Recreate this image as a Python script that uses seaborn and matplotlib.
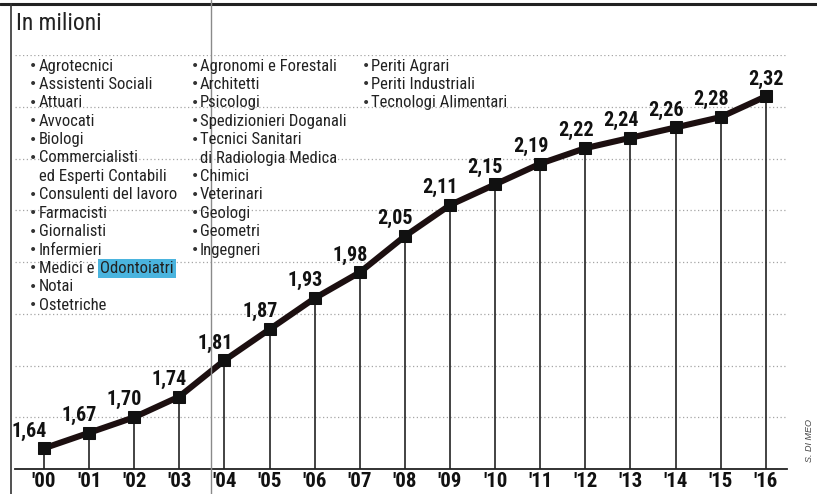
import numpy as np
import pandas as pd
import matplotlib
matplotlib.use("Agg")
import matplotlib.pyplot as plt
from matplotlib.lines import Line2D
from matplotlib import font_manager as fm
import seaborn as sns

# ---- data ----
years = ["'00", "'01", "'02", "'03", "'04", "'05", "'06", "'07", "'08",
         "'09", "'10", "'11", "'12", "'13", "'14", "'15", "'16"]
values = [1.64, 1.67, 1.70, 1.74, 1.81, 1.87, 1.93, 1.98, 2.05,
          2.11, 2.15, 2.19, 2.22, 2.24, 2.26, 2.28, 2.32]
value_labels = ["1,64", "1,67", "1,70", "1,74", "1,81", "1,87", "1,93", "1,98", "2,05",
                "2,11", "2,15", "2,19", "2,22", "2,24", "2,26", "2,28", "2,32"]
title = "In milioni"
col1 = ["Agrotecnici", "Assistenti Sociali", "Attuari", "Avvocati", "Biologi",
        "Commercialisti\ned Esperti Contabili", "Consulenti del lavoro", "Farmacisti",
        "Giornalisti", "Infermieri", "Medici e |Odontoiatri", "Notai", "Ostetriche"]
col2 = ["Agronomi e Forestali", "Architetti", "Psicologi", "Spedizionieri Doganali",
        "Tecnici Sanitari\ndi Radiologia Medica", "Chimici", "Veterinari", "Geologi",
        "Geometri", "Ingegneri"]
col3 = ["Periti Agrari", "Periti Industriali", "Tecnologi Alimentari"]
credit = "S. DI MEO"

sns.set_theme(style="white")
plt.rcParams["font.family"] = ["Liberation Sans", "DejaVu Sans"]


def find_font(bold):
    """Look for an installed narrow/condensed sans font file."""
    cands = []
    for f in fm.fontManager.ttflist:
        n = f.fname.lower()
        if ("narrow" in n or "condensed" in n) and "mono" not in n and "serif" not in n.replace("sans", ""):
            if "italic" in n or "oblique" in n:
                continue
            isbold = ("bold" in n)
            if isbold == bold:
                pri = 0 if "liberation" in n else (1 if "roboto" in n else 2)
                cands.append((pri, f.fname))
    if cands:
        cands.sort()
        return fm.FontProperties(fname=cands[0][1])
    return None


nar = find_font(False)
nar_b = find_font(True)
if nar is not None:
    REG = dict(fontproperties=nar)
    reg_scale = 1.0
else:
    REG = dict(family=["Liberation Sans", "DejaVu Sans"])
    reg_scale = 0.93
if nar_b is not None:
    BLD = dict(fontproperties=nar_b)
    bld_scale = 1.0
else:
    BLD = dict(family=["Liberation Sans", "DejaVu Sans"], fontweight="bold")
    bld_scale = 0.9

W, H = 817, 494
fig = plt.figure(figsize=(W / 100, H / 100), dpi=100)
fig.patch.set_facecolor("white")


def fx(px):
    return px / W


def fy(py):
    return 1 - py / H


def txt(size, props):
    d = dict(props)
    fp = d.get("fontproperties")
    if fp is not None:
        fp = fp.copy()
        fp.set_size(size)
        d["fontproperties"] = fp
    else:
        d["fontsize"] = size
    return d


ax = fig.add_axes([fx(15), fy(469), fx(787) - fx(15), fy(55) - fy(469)])
ax.set_facecolor("none")

df = pd.DataFrame({"x": np.arange(len(years)), "v": values})
ymin = 1.6
ax.set_xlim(-0.643, 16.47)
ax.set_ylim(ymin, 2.4)

# dotted grid lines
ax.set_yticks(np.round(np.arange(1.7, 2.41, 0.1), 2))
ax.yaxis.grid(True, linestyle=(0, (1, 2)), color="#a5a5a5", linewidth=0.9)
ax.xaxis.grid(False)
ax.tick_params(axis="y", length=0, labelleft=False)

# vertical drop lines
ax.vlines(df["x"], ymin, df["v"], colors="#222222", linewidth=1.2, zorder=2)

sns.lineplot(data=df, x="x", y="v", ax=ax, color="#1c0f10", linewidth=4.4,
             marker="s", markersize=9, markeredgecolor="#111111",
             markerfacecolor="#111111", zorder=4)

for i, (v, lab) in enumerate(zip(values, value_labels)):
    if i == len(values) - 1:
        dx = 0
    elif i == 0:
        dx = -11
    else:
        dx = -7
    ax.annotate(lab, (i, v), xytext=(dx, 12.5), textcoords="offset points",
                ha="center", va="center", color="#111111", zorder=5,
                **txt(14.5 * bld_scale, BLD))

ax.set_xticks(df["x"])
ax.set_xticklabels(years, color="#111111", **txt(15 * bld_scale, BLD))
ax.tick_params(axis="x", length=0, pad=2)
ax.set_xlabel("")
ax.set_ylabel("")
for s in ["top", "right", "left"]:
    ax.spines[s].set_visible(False)
ax.spines["bottom"].set_color("#222222")
ax.spines["bottom"].set_linewidth(1.3)

# frame lines (top rule, left rule, scan fold)
fig.add_artist(Line2D([0, 1], [fy(4), fy(4)], color="#222222", linewidth=2.2))
fig.add_artist(Line2D([fx(11), fx(11)], [0, fy(4)], color="#333333", linewidth=1.2))
fig.add_artist(Line2D([fx(211), fx(211)], [0, 1], color="#8a8a8a", linewidth=1.0))

# title
fig.text(fx(16), fy(23), title, color="#222222", va="center", ha="left",
         **txt(17 * reg_scale, REG))

# list of professions
row0, step = 66, 18.4
LS = 12 * reg_scale


def draw_col(items, xb, xt):
    row = 0
    for it in items:
        lines = it.split("\n")
        y = fy(row0 + row * step)
        fig.text(fx(xb), y, "•", fontsize=10, color="#333333", va="center", ha="center",
                 family=["DejaVu Sans"])
        first = lines[0]
        if "|" in first:
            a, b = first.split("|")
            t = fig.text(fx(xt), y, a, color="#222222", va="center", ha="left", **txt(LS, REG))
            ax.annotate(b, xy=(1, 0.5), xycoords=t, xytext=(1.5, 0), textcoords="offset points",
                        color="#222222", va="center", ha="left",
                        bbox=dict(boxstyle="square,pad=0.12", facecolor="#4ab4de",
                                  edgecolor="none"), annotation_clip=False, **txt(LS, REG))
        else:
            fig.text(fx(xt), y, first, color="#222222", va="center", ha="left", **txt(LS, REG))
        for extra in lines[1:]:
            row += 1
            fig.text(fx(xt), fy(row0 + row * step), extra, color="#222222",
                     va="center", ha="left", **txt(LS, REG))
        row += 1


draw_col(col1, 33, 39)
draw_col(col2, 195, 200)
draw_col(col3, 366, 371)

fig.text(fx(809), fy(440), credit, fontsize=6.5, rotation=90, color="#444444",
         va="center", ha="center", style="italic")

fig.savefig("out.png", dpi=100)
